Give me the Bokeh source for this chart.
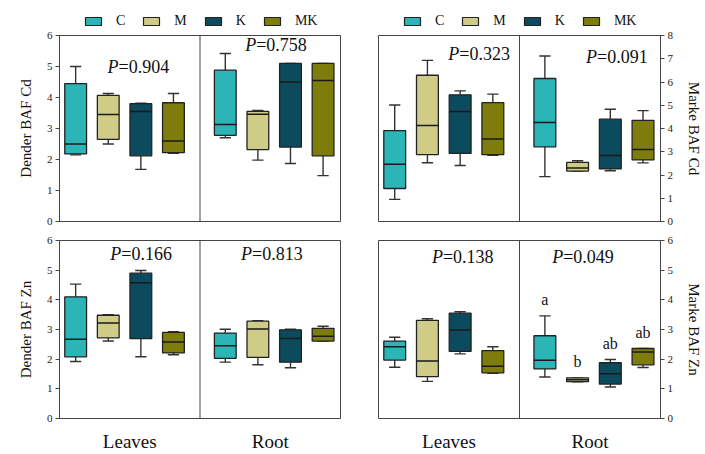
from bokeh.plotting import figure
from bokeh.models import Range1d, FixedTicker, Span, Legend, LegendItem, ColumnDataSource
from bokeh.layouts import column, row
from bokeh.embed import file_html
from bokeh.resources import INLINE
from bokeh.core.properties import value

FONT = "Liberation Serif"

groups = ["Leaves", "Root"]
treatments = ["C", "M", "K", "MK"]
colors = ["#2BB5B6", "#CFCC87", "#0C4A5E", "#7E7C0B"]

# order of every list: Leaves C, M, K, MK, then Root C, M, K, MK
dender_cd_min = [2.15, 2.50, 1.68, 2.20, 2.70, 1.98, 1.87, 1.48]
dender_cd_q1 = [2.18, 2.65, 2.12, 2.22, 2.78, 2.32, 2.40, 2.12]
dender_cd_med = [2.50, 3.45, 3.55, 2.60, 3.13, 3.46, 4.50, 4.55]
dender_cd_q3 = [4.45, 4.07, 3.80, 3.83, 4.88, 3.55, 5.10, 5.10]
dender_cd_max = [5.00, 4.13, 3.82, 4.13, 5.42, 3.58, 5.10, 5.10]

marke_cd_min = [0.95, 2.53, 2.41, 2.85, 1.93, 2.17, 2.18, 2.52]
marke_cd_q1 = [1.42, 2.88, 2.93, 2.88, 3.21, 2.17, 2.26, 2.65]
marke_cd_med = [2.46, 4.13, 4.73, 3.55, 4.26, 2.30, 2.84, 3.10]
marke_cd_q3 = [3.91, 6.29, 5.45, 5.11, 6.15, 2.54, 4.40, 4.35]
marke_cd_max = [5.01, 6.93, 5.62, 5.48, 7.12, 2.61, 4.83, 4.77]

dender_zn_min = [1.92, 2.61, 2.08, 2.15, 1.90, 1.81, 1.71, 2.61]
dender_zn_q1 = [2.08, 2.72, 2.69, 2.21, 2.03, 2.06, 1.90, 2.61]
dender_zn_med = [2.67, 3.22, 4.58, 2.58, 2.45, 3.02, 2.70, 2.77]
dender_zn_q3 = [4.10, 3.48, 4.90, 2.90, 2.88, 3.28, 2.99, 3.04]
dender_zn_max = [4.53, 3.50, 4.99, 2.93, 3.01, 3.30, 3.01, 3.11]

marke_zn_min = [1.73, 1.25, 2.18, 1.52, 1.40, 1.24, 1.06, 1.72]
marke_zn_q1 = [1.97, 1.41, 2.26, 1.54, 1.67, 1.24, 1.16, 1.81]
marke_zn_med = [2.42, 1.94, 2.98, 1.76, 1.96, 1.31, 1.51, 2.24]
marke_zn_q3 = [2.61, 3.31, 3.55, 2.29, 2.79, 1.37, 1.88, 2.36]
marke_zn_max = [2.74, 3.36, 3.60, 2.42, 3.46, 1.37, 1.99, 2.36]

p_dender_cd = ["0.904", "0.758"]
p_marke_cd = ["0.323", "0.091"]
p_dender_zn = ["0.166", "0.813"]
p_marke_zn = ["0.138", "0.049"]

marke_zn_root_letters = ["a", "b", "ab", "ab"]

# ---- layout constants ----
GROUP_START = [0.115, 0.18]
STEP = 0.232
BOX_W = 0.155
CAP_W = 0.08
NAN = float("nan")


def xpos(g, i):
    return g + GROUP_START[g] + STEP * i


def make_legend_fig(width, height, x_off):
    p = figure(width=width, height=height, output_backend="svg", toolbar_location=None,
               x_axis_location=None, y_axis_location=None, x_range=Range1d(0, 1),
               y_range=Range1d(0, 1), min_border_left=0, min_border_right=0,
               min_border_top=0, min_border_bottom=0)
    p.xgrid.visible = False
    p.ygrid.visible = False
    p.outline_line_color = None
    items = []
    for i, t in enumerate(treatments):
        # a bar with no drawable position: only its legend swatch is seen
        r = p.vbar(x=[NAN], top=[NAN], bottom=[NAN], width=0.1, fill_color=colors[i],
                   line_color="#222222", line_width=1.2)
        items.append(LegendItem(label=t, renderers=[r]))
    lg = Legend(items=items, orientation="horizontal", location=(x_off, 0),
                glyph_width=20, glyph_height=10, label_standoff=13, spacing=16,
                label_width=8, label_height=10,
                label_text_font=FONT, label_text_font_size="14px",
                label_text_color="#111111",
                padding=0, margin=0, border_line_color=None, background_fill_alpha=0)
    p.add_layout(lg, "center")
    return p


def make_panel(stats, ymax, ylabel, pvals, p_anchor, side, width, height,
               borders, bottom_axis, letters=None):
    mn, q1, med, q3, mx = stats
    p = figure(width=width, height=height, output_backend="svg",
               toolbar_location=None, x_range=Range1d(0, 2),
               y_range=Range1d(0, ymax), x_axis_location="below" if bottom_axis else None,
               y_axis_location=side,
               min_border_left=borders[0], min_border_right=borders[1],
               min_border_top=borders[2], min_border_bottom=borders[3])
    p.xgrid.visible = False
    p.ygrid.visible = False
    p.outline_line_color = "#444444"
    p.outline_line_width = 1
    p.background_fill_color = "white"
    p.border_fill_color = "white"

    yax = p.yaxis[0]
    yax.ticker = FixedTicker(ticks=list(range(0, ymax + 1)))
    yax.axis_label = ylabel
    yax.axis_label_text_font = FONT
    yax.axis_label_text_font_style = "normal"
    yax.axis_label_text_font_size = "15px"
    yax.axis_label_text_color = "#111111"
    yax.axis_label_standoff = 10
    yax.major_label_text_font = FONT
    yax.major_label_text_font_size = "11px"
    yax.major_label_text_color = "#222222"
    yax.major_label_standoff = 3
    yax.major_tick_in = 0
    yax.major_tick_out = 4
    yax.minor_tick_line_color = None
    yax.axis_line_color = "#444444"
    yax.major_tick_line_color = "#444444"

    if bottom_axis:
        xax = p.xaxis[0]
        xax.ticker = FixedTicker(ticks=[0.5, 1.5])
        xax.major_label_overrides = {0.5: groups[0], 1.5: groups[1]}
        xax.major_label_text_font = FONT
        xax.major_label_text_font_size = "19px"
        xax.major_label_text_color = "#111111"
        xax.major_label_standoff = 6
        xax.axis_line_color = None
        xax.major_tick_line_color = None
        xax.minor_tick_line_color = None

    p.add_layout(Span(location=1, dimension="height", line_color="#444444", line_width=1))

    for i, t in enumerate(treatments):
        idx = [i, i + 4]
        xs = [xpos(0, i), xpos(1, i)]
        src = ColumnDataSource(dict(
            x=xs,
            xl=[x - BOX_W / 2 for x in xs], xr=[x + BOX_W / 2 for x in xs],
            cl=[x - CAP_W / 2 for x in xs], cr=[x + CAP_W / 2 for x in xs],
            mn=[mn[k] for k in idx], q1=[q1[k] for k in idx], med=[med[k] for k in idx],
            q3=[q3[k] for k in idx], mx=[mx[k] for k in idx],
        ))
        p.segment(x0="x", y0="q3", x1="x", y1="mx", source=src, line_color="#333333", line_width=1.4)
        p.segment(x0="x", y0="q1", x1="x", y1="mn", source=src, line_color="#333333", line_width=1.4)
        p.segment(x0="cl", y0="mx", x1="cr", y1="mx", source=src, line_color="#333333", line_width=1.4)
        p.segment(x0="cl", y0="mn", x1="cr", y1="mn", source=src, line_color="#333333", line_width=1.4)
        p.vbar(x="x", width=BOX_W, bottom="q1", top="q3", source=src,
               fill_color=colors[i], line_color="#222222", line_width=1.3)
        p.segment(x0="xl", y0="med", x1="xr", y1="med", source=src, line_color="#1a1a1a", line_width=1.5)

    for g in range(2):
        ax, ay = p_anchor[g]
        p.text(x=[ax], y=[ay], text=["P"], text_font=value(FONT), text_font_style="italic",
               text_font_size="18px", text_align="right", text_baseline="middle", text_color="#111111")
        p.text(x=[ax], y=[ay], text=["=" + pvals[g]], text_font=value(FONT),
               text_font_size="18px", text_align="left", text_baseline="middle", text_color="#111111")

    if letters is not None:
        lx = [xpos(1, i) for i in range(4)]
        ly = [mx[i + 4] + 0.55 for i in range(4)]
        p.text(x=lx, y=ly, text=letters, text_font=value(FONT), text_font_size="16px",
               text_align="center", text_baseline="middle", text_color="#111111")
    return p


lg_l = make_legend_fig(360, 29, 83)
lg_r = make_legend_fig(345, 29, 42)
tl = make_panel((dender_cd_min, dender_cd_q1, dender_cd_med, dender_cd_q3, dender_cd_max), 6,
                "Dender BAF Cd", p_dender_cd, [(0.42, 4.98), (1.40, 5.68)], "left",
                360, 201, (59, 20, 6, 9), False)
tr = make_panel((marke_cd_min, marke_cd_q1, marke_cd_med, marke_cd_q3, marke_cd_max), 8,
                "Marke BAF Cd", p_marke_cd, [(0.573, 7.2), (1.55, 7.06)], "right",
                345, 201, (18, 44, 6, 9), False)
bl = make_panel((dender_zn_min, dender_zn_q1, dender_zn_med, dender_zn_q3, dender_zn_max), 6,
                "Dender BAF Zn", p_dender_zn, [(0.44, 5.54), (1.37, 5.54)], "left",
                360, 224, (59, 20, 10, 27), True)
br = make_panel((marke_zn_min, marke_zn_q1, marke_zn_med, marke_zn_q3, marke_zn_max), 6,
                "Marke BAF Zn", p_marke_zn, [(0.457, 5.46), (1.31, 5.46)], "right",
                345, 224, (18, 44, 10, 27), True, letters=marke_zn_root_letters)

layout = column(row(lg_l, lg_r), row(tl, tr), row(bl, br))
open("out.html", "w").write(file_html(layout, INLINE))
